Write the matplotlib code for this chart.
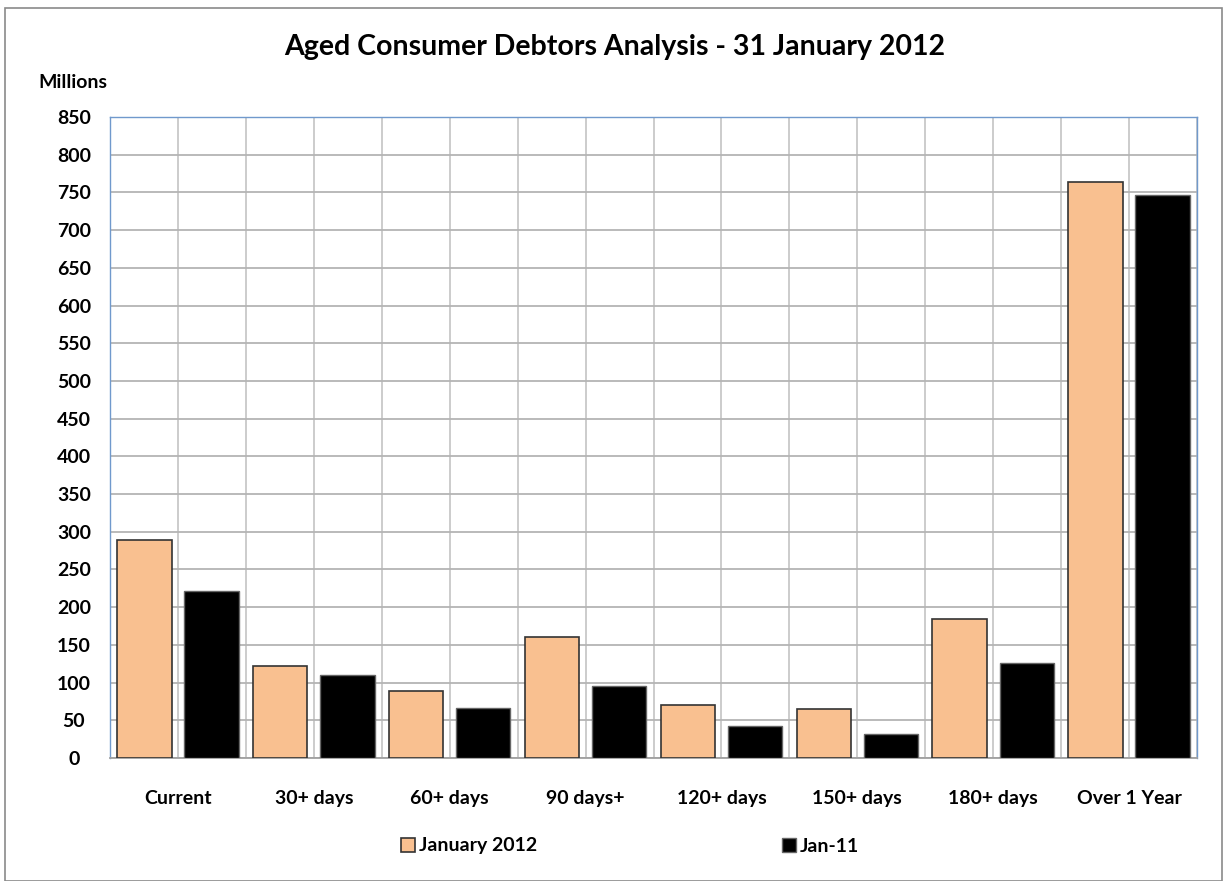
import matplotlib
matplotlib.use("Agg")
import matplotlib.pyplot as plt
from matplotlib.patches import Rectangle
from matplotlib.ticker import MultipleLocator
import numpy as np

categories = ["Current", "30+ days", "60+ days", "90 days+", "120+ days", "150+ days", "180+ days", "Over 1 Year"]
jan_2012 = [289, 122, 89, 160, 70, 65, 184, 764]
jan_11 = [221, 110, 66, 95, 42, 32, 126, 747]
series_names = ["January 2012", "Jan-11"]

plt.rcParams['font.family'] = ['Lato', 'DejaVu Sans']
plt.rcParams['font.weight'] = 'bold'

fig = plt.figure(figsize=(12.3, 8.81), dpi=100)
ax = fig.add_axes([110/1230, 1-758/881, (1197-110)/1230, (758-117)/881])

x = np.arange(len(categories))
w = 0.4
off = 0.247
b1 = ax.bar(x - off, jan_2012, w, color="#F9C090", edgecolor="#333333", linewidth=1.2, zorder=3, label=series_names[0])
b2 = ax.bar(x + off, jan_11, w, color="#000000", edgecolor="#666666", linewidth=1.0, zorder=3, label=series_names[1])

fs = 14
ax.set_xlim(-0.5, len(categories) - 0.5)
ax.set_ylim(0, 850)
ax.yaxis.set_major_locator(MultipleLocator(50))
ax.set_xticks(x)
ax.set_xticklabels(categories, fontsize=fs, fontweight='bold')
ax.set_xticks(np.arange(-0.5, len(categories), 0.5), minor=True)
ax.tick_params(axis='x', which='both', length=0, pad=23)
ax.tick_params(axis='y', length=0, pad=26, labelsize=fs)
for lbl in ax.get_yticklabels():
    lbl.set_fontweight('bold')
    lbl.set_horizontalalignment('center')
ax.grid(True, axis='y', which='major', color="#b4b4b4", linewidth=1.3, zorder=0)
ax.grid(True, axis='x', which='both', color="#c8c8c8", linewidth=1.3, zorder=0)
ax.set_axisbelow(True)
for s in ['left', 'top', 'right']:
    ax.spines[s].set_color("#7099cc")
    ax.spines[s].set_linewidth(1.0)
ax.spines['bottom'].set_color("#a0a0a0")
ax.spines['bottom'].set_linewidth(1.3)

fig.text(615/1230, 1-47/881, "Aged Consumer Debtors Analysis - 31 January 2012", ha='center', va='center', fontsize=20.5, fontweight='bold')
fig.text(73/1230, 1-82/881, "Millions", ha='center', va='center', fontsize=fs, fontweight='bold')

leg = fig.legend(handles=[b1, b2], labels=series_names, loc='center', bbox_to_anchor=(630/1230, 1-846/881),
                 ncol=2, frameon=False, fontsize=fs, handlelength=0.7, handleheight=0.7,
                 handletextpad=0.2, columnspacing=12.6)
for t in leg.get_texts():
    t.set_fontweight('bold')

fig.patches.append(Rectangle((5/1230, 0.0), 1217/1230, 1-8/881, transform=fig.transFigure,
                             fill=False, edgecolor="#8a8a8a", linewidth=1.2))

fig.savefig("out.png", dpi=100)
